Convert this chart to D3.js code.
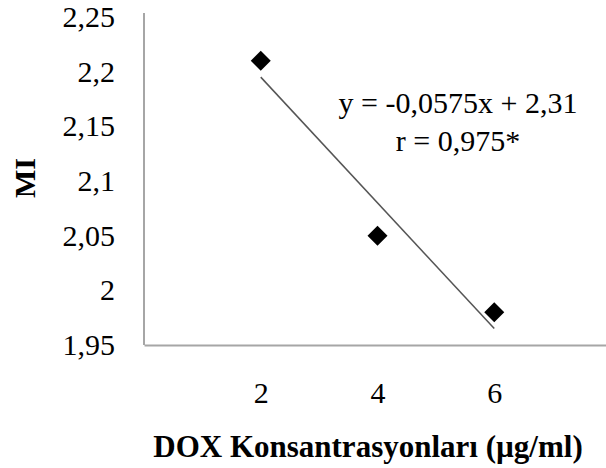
<!DOCTYPE html>
<html>
<head>
<meta charset="utf-8">
<script src="https://cdn.jsdelivr.net/npm/d3@7"></script>
<style>
  body { margin: 0; background: #fff; }
  svg { display: block; font-family: "Liberation Serif", "Times New Roman", serif; }
</style>
</head>
<body>
<svg id="chart"></svg>
<script>
const width = 606;
const height = 468;

// data
const concentrations = [2, 4, 6];
const miValues = [2.21, 2.05, 1.98];
const xTicks = [2, 4, 6];
const yTicks = [1.95, 2, 2.05, 2.1, 2.15, 2.2, 2.25];
const trendSlope = -0.0575;
const trendIntercept = 2.31;
const equationLines = ["y = -0,0575x + 2,31", "r = 0,975*"];

const svg = d3.select('#chart')
    .attr('width', width)
    .attr('height', height);

const x = d3.scaleLinear().domain([0, 8]).range([144, 611]);
const y = d3.scaleLinear().domain([1.95, 2.25]).range([345, 17]);

const comma = d => String(d).replace('.', ',');

// axes
const yAxis = svg.append('g')
    .attr('transform', `translate(${x(0)},0)`)
    .call(d3.axisLeft(y).tickValues(yTicks).tickSize(0).tickPadding(29).tickFormat(comma));

const xAxis = svg.append('g')
    .attr('transform', `translate(0,${y(1.95)})`)
    .call(d3.axisBottom(x).tickValues(xTicks).tickSize(0).tickPadding(37).tickFormat(comma));

[yAxis, xAxis].forEach(g => {
    g.select('.domain').attr('stroke', '#a6a6a6').attr('stroke-width', 2);
    g.selectAll('text')
        .attr('font-family', '"Liberation Serif", serif')
        .attr('font-size', 30)
        .attr('fill', '#000');
});
yAxis.select('.domain').attr('d', `M0,${y(2.25) - 4}V${y(1.95)}`);

// trend line
const trend = d3.line()
    .x(d => x(d))
    .y(d => y(trendSlope * d + trendIntercept));

svg.append('path')
    .datum([concentrations[0], concentrations[concentrations.length - 1]])
    .attr('d', trend)
    .attr('fill', 'none')
    .attr('stroke', '#555')
    .attr('stroke-width', 1.5);

// markers
const diamond = d3.symbol().type(d3.symbolSquare).size(200);
svg.selectAll('.pt')
    .data(concentrations.map((c, i) => [c, miValues[i]]))
    .enter()
    .append('path')
    .attr('class', 'pt')
    .attr('d', diamond)
    .attr('fill', '#000')
    .attr('transform', d => `translate(${x(d[0])},${y(d[1])}) rotate(45)`);

// equation label
svg.append('text')
    .attr('x', 458)
    .attr('y', 113)
    .attr('text-anchor', 'middle')
    .attr('font-size', 30)
    .selectAll('tspan')
    .data(equationLines)
    .enter()
    .append('tspan')
    .attr('x', 458)
    .attr('dy', (d, i) => i === 0 ? 0 : 38)
    .text(d => d);

// axis titles
svg.append('text')
    .attr('x', 368)
    .attr('y', 457)
    .attr('text-anchor', 'middle')
    .attr('font-weight', 'bold')
    .attr('font-size', 31)
    .text('DOX Konsantrasyonları (µg/ml)');

svg.append('text')
    .attr('transform', 'translate(35,178) rotate(-90)')
    .attr('text-anchor', 'middle')
    .attr('font-weight', 'bold')
    .attr('font-size', 30)
    .text('MI');
</script>
</body>
</html>
